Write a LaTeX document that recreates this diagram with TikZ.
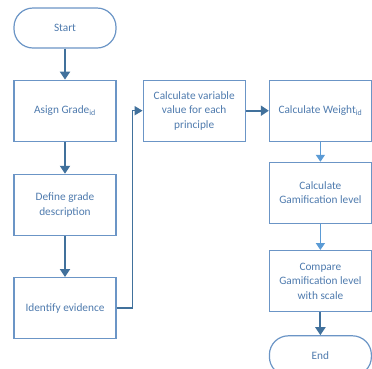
\documentclass[tikz,border=0pt]{standalone}
\usepackage{fontspec}
\setmainfont{Carlito}
\usepackage{xcolor}
\usepackage{tikz}
\usetikzlibrary{arrows.meta,positioning}
\definecolor{fcline}{HTML}{6B95C6}
\definecolor{fctext}{HTML}{4F7BAE}
\definecolor{fcdark}{HTML}{41719C}
\definecolor{fclight}{HTML}{5B9BD5}
\tikzset{
  flowarrow/.style={-{Triangle[length=8pt, width=10pt]}, line width=2pt, draw=fcdark},
  lightarrow/.style={-{Triangle[length=7pt, width=9pt]}, line width=1.6pt, draw=fclight},
  looparrow/.style={-{Triangle[length=8pt, width=9pt]}, line width=1.4pt, draw=fcdark},
  procbox/.style={draw=fcline, line width=1.2pt, fill=white, text=fctext,
    align=center, minimum width=102pt, minimum height=61pt, inner sep=2pt,
    font=\fontsize{11.3}{14.3}\selectfont},
  termbox/.style={draw=fcline, line width=1.2pt, fill=white, text=fctext,
    rounded corners=19pt, align=center, minimum width=102pt, minimum height=40pt,
    font=\fontsize{11.3}{14.3}\selectfont}
}
\begin{document}
\begin{tikzpicture}[x=1pt, y=-1pt, node distance=30pt and 26pt]
    \useasboundingbox (0,0) rectangle (372,368);

    \node[termbox] (start) at (65,28) {Start};
    \node[procbox, below=31pt of start] (asign) {Asign Grade\textsubscript{id}};
    \node[procbox, below=32pt of asign] (define) {Define grade\\description};
    \node[procbox, below=41pt of define] (ident) {Identify evidence};

    \node[procbox, right=26pt of asign] (calcvar) {Calculate variable\\value for each\\principle};
    \node[procbox, right=23pt of calcvar] (weight) {Calculate Weight\textsubscript{id}};
    \node[procbox, below=20pt of weight] (gamif) {Calculate\\Gamification level};
    \node[procbox, below=26pt of gamif] (compare) {Compare\\Gamification level\\with scale};
    \node[termbox, below=23pt of compare] (end) {End};

    \draw[flowarrow] (start) -- (asign);
    \draw[flowarrow] (asign) -- (define);
    \draw[flowarrow] (define) -- (ident);
    \draw[looparrow] (ident.east) -- ++(16pt,0) |- (calcvar.west);
    \draw[flowarrow] (calcvar) -- (weight);
    \draw[lightarrow] (weight) -- (gamif);
    \draw[lightarrow] (gamif) -- (compare);
    \draw[flowarrow] (compare) -- (end);
\end{tikzpicture}
\end{document}
